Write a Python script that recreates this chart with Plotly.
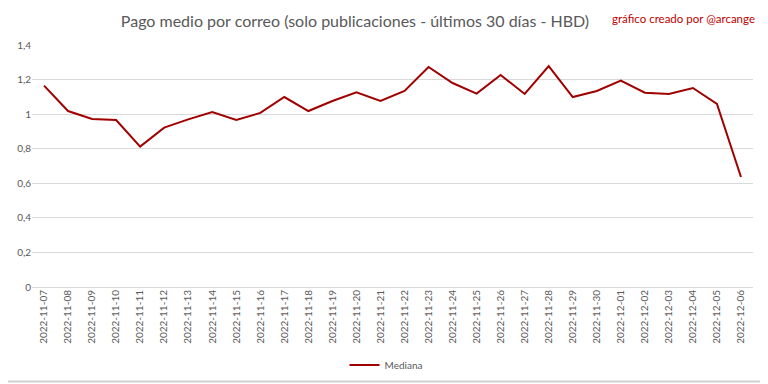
import plotly.graph_objects as go

dates = ["2022-11-07", "2022-11-08", "2022-11-09", "2022-11-10", "2022-11-11",
         "2022-11-12", "2022-11-13", "2022-11-14", "2022-11-15", "2022-11-16",
         "2022-11-17", "2022-11-18", "2022-11-19", "2022-11-20", "2022-11-21",
         "2022-11-22", "2022-11-23", "2022-11-24", "2022-11-25", "2022-11-26",
         "2022-11-27", "2022-11-28", "2022-11-29", "2022-11-30", "2022-12-01",
         "2022-12-02", "2022-12-03", "2022-12-04", "2022-12-05", "2022-12-06"]
mediana = [1.165, 1.018, 0.972, 0.966, 0.812, 0.922, 0.970, 1.012, 0.966, 1.007,
           1.099, 1.018, 1.076, 1.126, 1.076, 1.134, 1.273, 1.180, 1.119, 1.226,
           1.117, 1.278, 1.099, 1.134, 1.194, 1.124, 1.117, 1.151, 1.059, 0.636]

title_text = "Pago medio por correo (solo publicaciones - últimos 30 días - HBD)"
credit_text = "gráfico creado por @arcange"

font_family = "Lato, Open Sans, Liberation Sans, sans-serif"

# The page body adds an 8px offset; lay out in screen coordinates minus 8
OFF = 8
W, H = 768, 384
ML, MT = 32 - OFF, 45 - OFF
MR = W - (753 - OFF)
MB = H - (287 - OFF)
pw, ph = W - ML - MR, H - MT - MB


def px_x(sx):
    return (sx - OFF - ML) / pw


def px_y(sy):
    return (MT + ph - (sy - OFF)) / ph


fig = go.Figure()
fig.add_trace(go.Scatter(
    x=dates, y=mediana, mode="lines", name="Mediana",
    line=dict(color="#A00000", width=2),
))

fig.update_layout(
    width=W, height=H,
    margin=dict(l=ML, r=MR, t=MT, b=MB, autoexpand=False),
    paper_bgcolor="white", plot_bgcolor="white",
    separators=", ",
    font=dict(family=font_family, color="#595959", size=10),
    title=dict(text=title_text, x=(355 - OFF) / W, xanchor="center",
               y=1 - (21 - OFF) / H, yanchor="middle",
               xref="container", yref="container",
               font=dict(size=16, color="#595959", family=font_family)),
    showlegend=True,
    legend=dict(orientation="h", x=px_x(386), xanchor="center", y=px_y(365), yanchor="middle",
                font=dict(size=10, color="#595959")),
    xaxis=dict(type="category", range=[-0.5, len(dates) - 0.5], tickangle=-90, automargin=False,
               showgrid=False, showline=False, ticks="", tickfont=dict(size=10, color="#595959")),
    yaxis=dict(range=[0, 1.4], dtick=0.2, showgrid=True, gridcolor="#D9D9D9", gridwidth=1,
               zeroline=True, zerolinecolor="#D9D9D9", zerolinewidth=1, automargin=False,
               showline=False, ticks="", tickfont=dict(size=10, color="#595959")),
    annotations=[dict(text=credit_text, xref="paper", yref="paper", x=px_x(757), xanchor="right",
                      y=px_y(18), yanchor="middle", showarrow=False,
                      font=dict(size=11.5, color="#C00000", family=font_family))],
    shapes=[
        dict(type="line", xref="paper", yref="paper", x0=px_x(765), x1=px_x(765),
             y0=px_y(381), y1=px_y(0), line=dict(color="#D0D0D0", width=1.5)),
        dict(type="line", xref="paper", yref="paper", x0=px_x(0), x1=px_x(766),
             y0=px_y(381.5), y1=px_y(381.5), line=dict(color="#D0D0D0", width=2)),
    ],
)

fig.write_html("out.html")
